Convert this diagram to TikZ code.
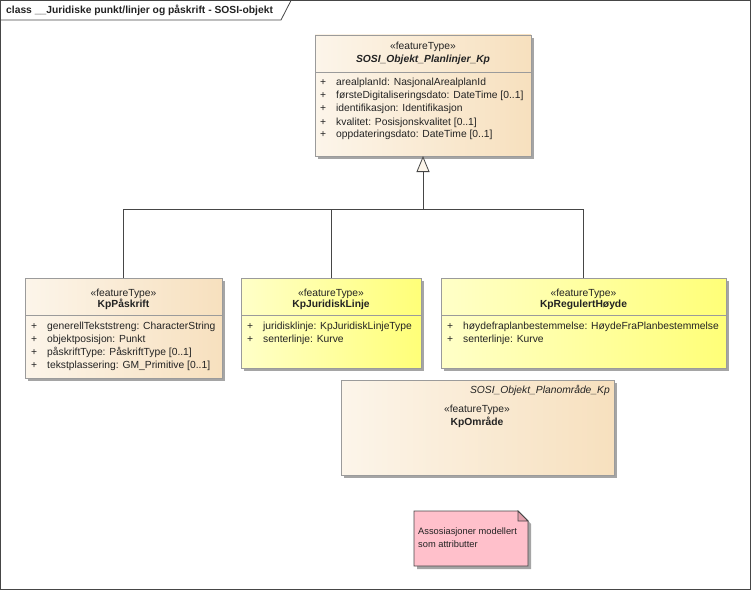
\documentclass[tikz,border=0pt]{standalone}
\usepackage{fontspec}
\setmainfont{Liberation Sans}
\usetikzlibrary{arrows.meta,shadows,positioning,calc}

\definecolor{creamL}{RGB}{252,245,234}
\definecolor{creamR}{RGB}{247,224,190}
\definecolor{yellowL}{RGB}{255,255,200}
\definecolor{yellowR}{RGB}{255,255,120}
\definecolor{boxline}{RGB}{155,155,155}
\definecolor{shadowgray}{RGB}{165,165,165}
\definecolor{connline}{RGB}{70,70,70}
\definecolor{notepink}{RGB}{255,192,203}
\definecolor{notefold}{RGB}{225,160,172}
\definecolor{txt}{RGB}{35,35,35}

\tikzset{
  classbox/.style={draw=boxline, line width=0.8pt, inner sep=0pt, outer sep=0pt,
    anchor=north west,
    drop shadow={shadow xshift=3pt, shadow yshift=-3pt, fill=shadowgray, opacity=1}},
  cream/.style={left color=creamL, right color=creamR},
  yellowish/.style={left color=yellowL, right color=yellowR},
  lbl/.style={inner sep=0pt, text=txt, font=\fontsize{10.3}{12}\selectfont},
  attr/.style={lbl, anchor=base west},
  stereo/.style={lbl, anchor=base},
  clsname/.style={lbl, anchor=base, font=\fontsize{10.3}{12}\selectfont\bfseries},
  sepline/.style={draw=boxline, line width=0.8pt},
  genline/.style={draw=connline, line width=0.8pt},
}

\begin{document}
\begin{tikzpicture}[x=1pt, y=-1pt]
  \useasboundingbox (0,0) rectangle (752,591);

  % frame and title tab
  \draw[connline, line width=0.8pt] (0.5,0.5) rectangle (750.5,589.5);
  \draw[connline, line width=0.8pt] (0.5,20) -- (281,20) -- (291,0.5);
  \node[lbl, anchor=base west, font=\fontsize{10.3}{12}\selectfont\bfseries] (title) at (6,14)
    {class \_\_Juridiske punkt/linjer og påskrift - SOSI-objekt};

  % parent class
  \node[classbox, cream, minimum width=216pt, minimum height=121pt] (planlinjer) at (315,35) {};
  \draw[sepline] ($(planlinjer.north west)+(0,37)$) -- ($(planlinjer.north east)+(0,37)$);
  \node[stereo] (planlinjer-st) at (423,50) {«featureType»};
  \node[clsname, font=\fontsize{10.3}{12}\selectfont\bfseries\itshape] (planlinjer-nm) at (423,63) {SOSI\_Objekt\_Planlinjer\_Kp};
  \foreach \txt [count=\i] in {{arealplanId: NasjonalArealplanId},
      {førsteDigitaliseringsdato: DateTime [0..1]},
      {identifikasjon: Identifikasjon},
      {kvalitet: Posisjonskvalitet [0..1]},
      {oppdateringsdato: DateTime [0..1]}}{
    \node[attr] (planlinjer-p\i) at (320,{73+13*\i}) {+};
    \node[attr] (planlinjer-a\i) at (336,{73+13*\i}) {\txt};
  }

  % KpPåskrift
  \node[classbox, cream, minimum width=197pt, minimum height=100pt] (paskrift) at (25,278) {};
  \draw[sepline] ($(paskrift.north west)+(0,37)$) -- ($(paskrift.north east)+(0,37)$);
  \node[stereo] (paskrift-st) at (123.5,296) {«featureType»};
  \node[clsname] (paskrift-nm) at (123.5,307) {KpPåskrift};
  \foreach \txt [count=\i] in {{generellTekststreng: CharacterString},
      {objektposisjon: Punkt},
      {påskriftType: PåskriftType [0..1]},
      {tekstplassering: GM\_Primitive [0..1]}}{
    \node[attr] (paskrift-p\i) at (31,{316+13*\i}) {+};
    \node[attr] (paskrift-a\i) at (47,{316+13*\i}) {\txt};
  }

  % KpJuridiskLinje
  \node[classbox, yellowish, minimum width=180pt, minimum height=90pt] (juridisk) at (241,278) {};
  \draw[sepline] ($(juridisk.north west)+(0,37)$) -- ($(juridisk.north east)+(0,37)$);
  \node[stereo] (juridisk-st) at (331,296) {«featureType»};
  \node[clsname] (juridisk-nm) at (331,307) {KpJuridiskLinje};
  \foreach \txt [count=\i] in {{juridisklinje: KpJuridiskLinjeType},
      {senterlinje: Kurve}}{
    \node[attr] (juridisk-p\i) at (247,{316+13*\i}) {+};
    \node[attr] (juridisk-a\i) at (263,{316+13*\i}) {\txt};
  }

  % KpRegulertHøyde
  \node[classbox, yellowish, minimum width=285pt, minimum height=90pt] (hoyde) at (441,278) {};
  \draw[sepline] ($(hoyde.north west)+(0,37)$) -- ($(hoyde.north east)+(0,37)$);
  \node[stereo] (hoyde-st) at (583.5,296) {«featureType»};
  \node[clsname] (hoyde-nm) at (583.5,307) {KpRegulertHøyde};
  \foreach \txt [count=\i] in {{høydefraplanbestemmelse: HøydeFraPlanbestemmelse},
      {senterlinje: Kurve}}{
    \node[attr] (hoyde-p\i) at (447,{316+13*\i}) {+};
    \node[attr] (hoyde-a\i) at (463,{316+13*\i}) {\txt};
  }

  % KpOmråde
  \node[classbox, cream, minimum width=273pt, minimum height=95pt] (omrade) at (341,380) {};
  \node[lbl, anchor=base east, font=\fontsize{10.3}{12}\selectfont\itshape] (omrade-pk) at (610,393) {SOSI\_Objekt\_Planområde\_Kp};
  \node[stereo] (omrade-st) at (477,412) {«featureType»};
  \node[clsname] (omrade-nm) at (477,425) {KpOmråde};

  % generalisation
  \coordinate (split) at (423,209);
  \draw[genline] (paskrift.north) |- (split);
  \draw[genline] (juridisk.north) -- (juridisk.north |- split);
  \draw[genline] (hoyde.north) |- (split);
  \draw[genline, -{Triangle[fill=creamL, length=16pt, width=13pt]}] (split) -- (planlinjer.south);

  % note
  \node[inner sep=0pt, outer sep=0pt, anchor=north west, minimum width=114pt, minimum height=55pt] (note) at (414,511) {};
  \fill[shadowgray] ($(note.north west)+(3,3)$) -- ($(note.north east)+(-7,3)$) -- ($(note.north east)+(3,13)$)
    -- ($(note.south east)+(3,3)$) -- ($(note.south west)+(3,3)$) -- cycle;
  \draw[connline, line width=0.8pt, fill=notepink] (note.north west) -- ($(note.north east)+(-10,0)$)
    -- ($(note.north east)+(0,10)$) -- (note.south east) -- (note.south west) -- cycle;
  \draw[connline, line width=0.8pt, fill=notefold] ($(note.north east)+(-10,0)$) -- ($(note.north east)+(-10,10)$)
    -- ($(note.north east)+(0,10)$) -- cycle;
  \node[lbl, anchor=base west, align=left, font=\fontsize{9.3}{13}\selectfont] (note-txt) at (418,547)
    {Assosiasjoner modellert\\som attributter};
\end{tikzpicture}
\end{document}
